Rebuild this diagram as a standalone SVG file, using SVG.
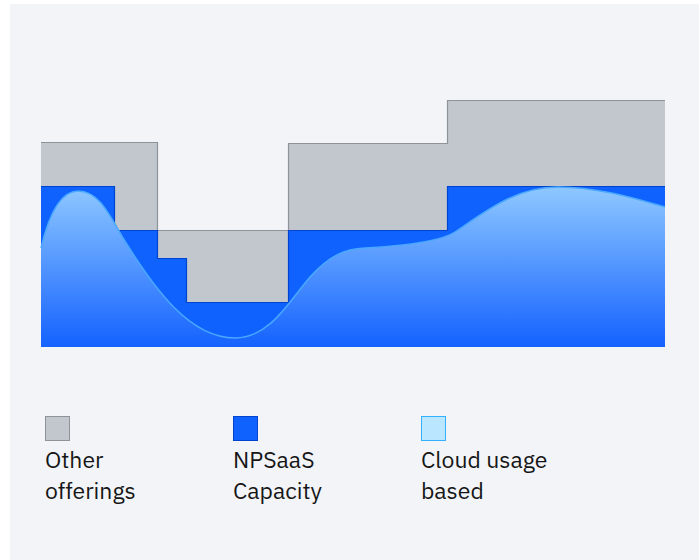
<svg xmlns="http://www.w3.org/2000/svg" width="699" height="560" viewBox="0 0 699 560">
<style>
.lbl{font-family:"IBM Plex Sans","Liberation Sans",Arial,sans-serif;font-size:23px;fill:#161616}
.gray{fill:#c1c7cd}
.grayline{fill:none;stroke:#8d9399;stroke-width:1.2}
.blue{fill:#0f62fe}
.blueline{fill:none;stroke:#0043ce;stroke-width:1.2}
</style>
<defs>
<linearGradient id="cloudGrad" gradientUnits="userSpaceOnUse" x1="0" y1="186" x2="0" y2="347">
<stop offset="0" stop-color="#8fc8ff"/>
<stop offset="1" stop-color="#1462ff"/>
</linearGradient>
</defs>
<rect x="0" y="0" width="699" height="560" fill="#ffffff"/>
<rect x="10" y="4" width="689" height="556" fill="#f2f4f8"/>
<g id="chart">
<g id="other-offerings">
<path class="gray" d="M41,142 H157 V230 H288 V143 H447 V100 H665 V347 H41 Z"/>
<path class="grayline" d="M41,142.5 H157.5 V230.5 H288.5 V143.5 H447.5 V100.5 H665"/>
</g>
<g id="npsaas-capacity">
<path class="blue" d="M41,186 H114.5 V230 H157 V258 H186.5 V302 H288 V230 H447 V186 H665 V347 H41 Z"/>
<path class="blueline" d="M41,186.5 H114.5 V230.5 H157.5 V258.5 H186.5 V302.5 H288.5 V230.5 H447.5 V186.5 H665"/>
</g>
<g id="cloud-usage">
<path fill="url(#cloudGrad)" d="M41,248 C50,210 62,191 78,191 C98,191 108,212 123,238 C155,290 190,338 235,338 C270,338 290,300 310,277 C330,255 345,249 365,248 C400,246 440,242 455,232 C485,212 515,187 558,187 C600,187 640,200 665,207 L665,347 L41,347 Z"/>
<path fill="none" stroke="#4aa8ff" stroke-width="1.5" d="M41,248 C50,210 62,191 78,191 C98,191 108,212 123,238 C155,290 190,338 235,338 C270,338 290,300 310,277 C330,255 345,249 365,248 C400,246 440,242 455,232 C485,212 515,187 558,187 C600,187 640,200 665,207"/>
</g>
</g>
<g id="legend-other">
<rect x="45.5" y="416.5" width="24" height="24" fill="#c1c7cd" stroke="#8d9399"/>
<text class="lbl" x="45" y="468">Other</text>
<text class="lbl" x="45" y="499">offerings</text>
</g>
<g id="legend-npsaas">
<rect x="233.5" y="416.5" width="24" height="24" fill="#0f62fe" stroke="#0043ce"/>
<text class="lbl" x="233" y="468">NPSaaS</text>
<text class="lbl" x="233" y="499">Capacity</text>
</g>
<g id="legend-cloud">
<rect x="421.5" y="416.5" width="24" height="24" fill="#bae6ff" stroke="#33b1ff"/>
<text class="lbl" x="421" y="468">Cloud usage</text>
<text class="lbl" x="421" y="499">based</text>
</g>
<g id="connectors"/>
</svg>
